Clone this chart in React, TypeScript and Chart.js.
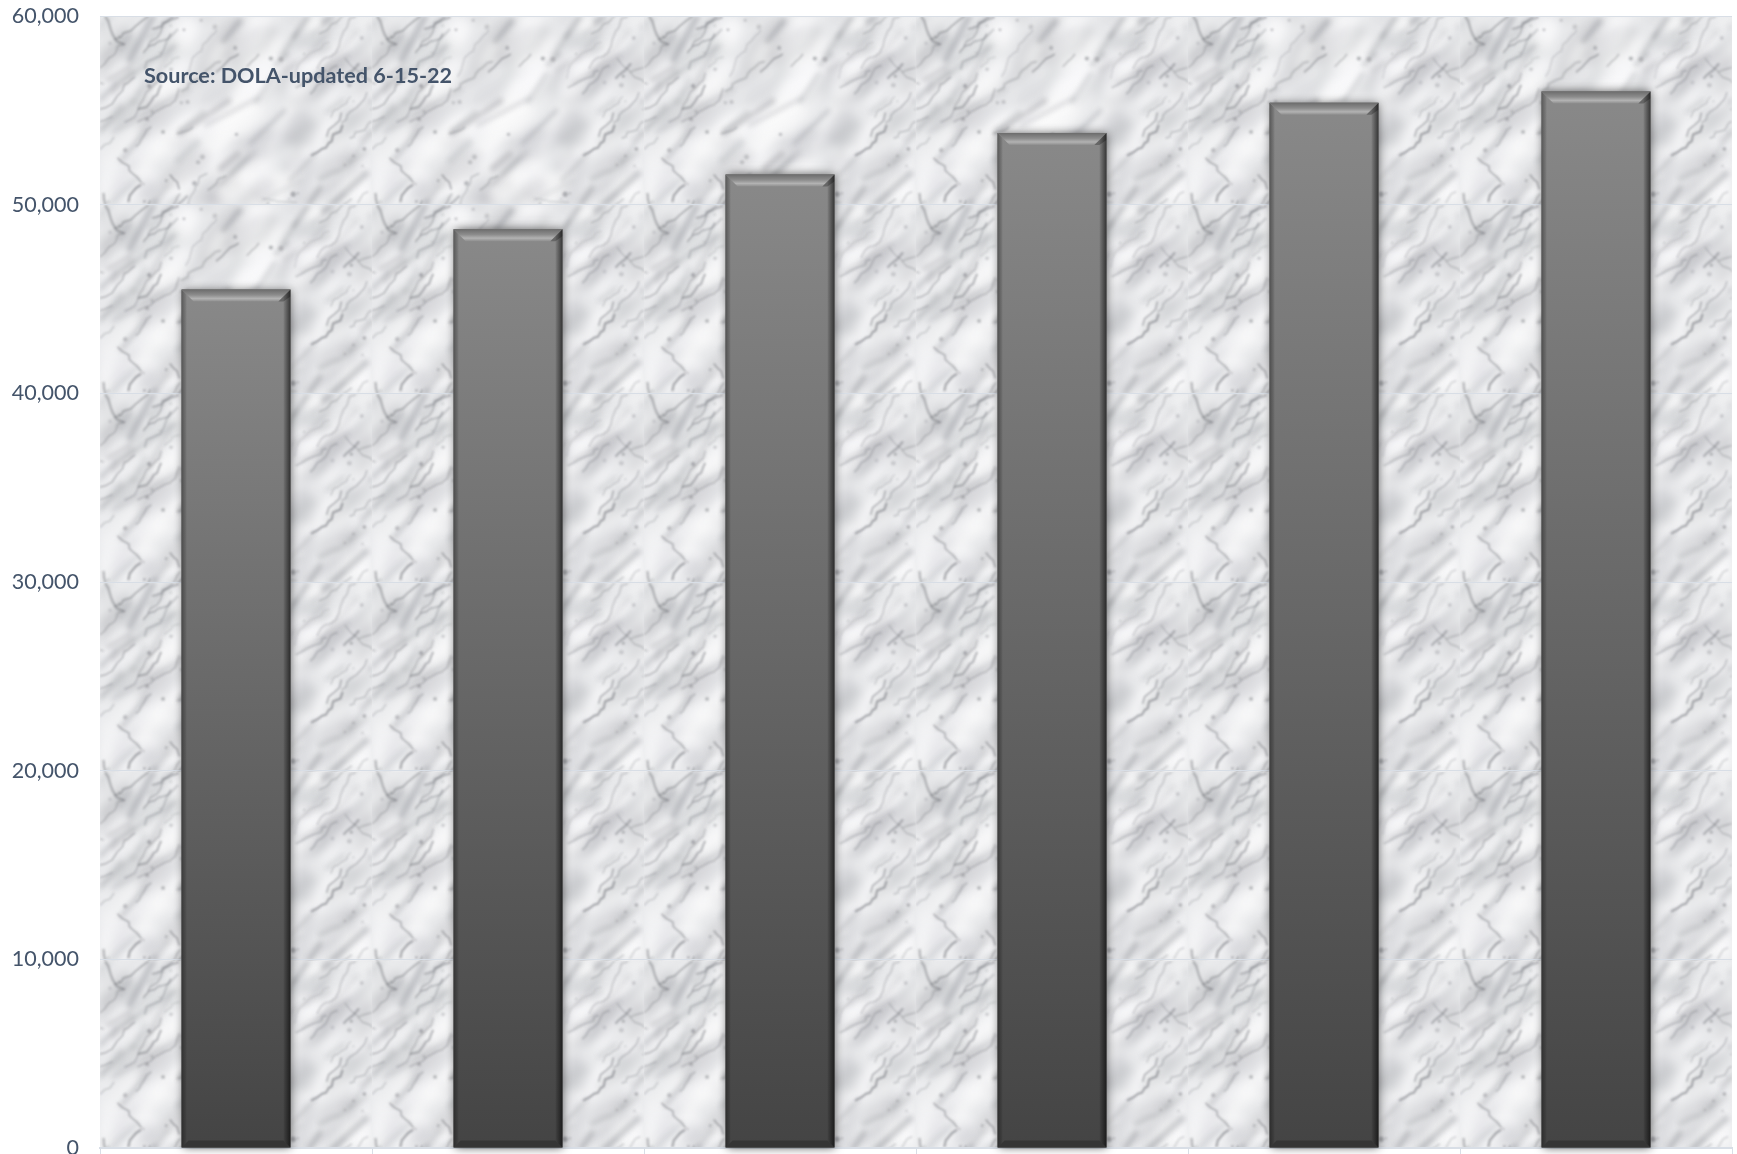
import { useEffect, useRef } from "react";
import { Chart, registerables } from "chart.js";

Chart.register(...registerables);

// Category labels are cut off in the reference image (not visible), kept hidden.
const categories = ["2020", "2025", "2030", "2035", "2040", "2045"];
const values = [45500, 48700, 51600, 53800, 55400, 56000];
const yMin = 0;
const yMax = 60000;
const yStep = 10000;
const sourceNote = "Source: DOLA-updated 6-15-22";

const TEXT_COLOR = "#44546A";
const GRID_COLOR = "#d8dee6";

function mulberry32(seed: number) {
  let a = seed;
  return function () {
    a |= 0;
    a = (a + 0x6d2b79f5) | 0;
    let t = Math.imul(a ^ (a >>> 15), 1 | a);
    t = (t + Math.imul(t ^ (t >>> 7), 61 | t)) ^ t;
    return ((t ^ (t >>> 14)) >>> 0) / 4294967296;
  };
}

function makeMarbleTile(w: number, h: number): HTMLCanvasElement {
  const c = document.createElement("canvas");
  c.width = w;
  c.height = h;
  const g = c.getContext("2d")!;
  const rnd = mulberry32(20220615);
  g.fillStyle = "#e8e9eb";
  g.fillRect(0, 0, w, h);
  const offs = [-1, 0, 1];
  const baseAng = -0.8;

  // soft, diagonal cloud layer
  const cl = document.createElement("canvas");
  cl.width = w;
  cl.height = h;
  const cg = cl.getContext("2d")!;
  for (let i = 0; i < 110; i++) {
    const x = rnd() * w;
    const y = rnd() * h;
    const rx = 10 + rnd() * 30;
    const ry = 4 + rnd() * 10;
    const light = rnd() < 0.55;
    const col = light
      ? `rgba(250,250,251,${(0.35 + rnd() * 0.4).toFixed(3)})`
      : `rgba(150,152,158,${(0.1 + rnd() * 0.18).toFixed(3)})`;
    const ang = baseAng + (rnd() - 0.5) * 0.6;
    for (const ox of offs)
      for (const oy of offs) {
        cg.fillStyle = col;
        cg.beginPath();
        cg.ellipse(x + ox * w, y + oy * h, rx, ry, ang, 0, Math.PI * 2);
        cg.fill();
      }
  }
  g.filter = "blur(5px)";
  g.drawImage(cl, 0, 0);
  g.filter = "none";

  // fuzzy diagonal streaks
  const st = document.createElement("canvas");
  st.width = w;
  st.height = h;
  const sg = st.getContext("2d")!;
  sg.lineCap = "round";
  for (let i = 0; i < 45; i++) {
    const x = rnd() * w;
    const y = rnd() * h;
    const ang = baseAng + (rnd() - 0.5) * 0.7;
    const len = 15 + rnd() * 45;
    const col = `rgba(135,137,143,${(0.15 + rnd() * 0.25).toFixed(3)})`;
    const lw = 2 + rnd() * 5;
    for (const ox of offs)
      for (const oy of offs) {
        sg.strokeStyle = col;
        sg.lineWidth = lw;
        sg.beginPath();
        sg.moveTo(x + ox * w, y + oy * h);
        sg.lineTo(x + ox * w + Math.cos(ang) * len, y + oy * h + Math.sin(ang) * len);
        sg.stroke();
      }
  }
  g.filter = "blur(2.5px)";
  g.drawImage(st, 0, 0);
  g.filter = "none";

  // fine cracks
  const v = document.createElement("canvas");
  v.width = w;
  v.height = h;
  const vg = v.getContext("2d")!;
  vg.lineCap = "round";
  vg.lineJoin = "round";
  for (let i = 0; i < 38; i++) {
    const pts: [number, number][] = [];
    let x = rnd() * w;
    let y = rnd() * h;
    const dir = rnd() < 0.75 ? baseAng : baseAng + 1.4 * (rnd() < 0.5 ? 1 : -1);
    let a = dir;
    const steps = 3 + Math.floor(rnd() * 8);
    pts.push([x, y]);
    for (let s = 0; s < steps; s++) {
      a = dir + (rnd() - 0.5) * 1.2;
      const step = 3 + rnd() * 6;
      x += Math.cos(a) * step;
      y += Math.sin(a) * step;
      pts.push([x, y]);
    }
    const col = `rgba(105,107,113,${(0.2 + rnd() * 0.35).toFixed(3)})`;
    const lw = 0.8 + rnd() * 1.6;
    for (const ox of offs)
      for (const oy of offs) {
        vg.strokeStyle = col;
        vg.lineWidth = lw;
        vg.beginPath();
        vg.moveTo(pts[0][0] + ox * w, pts[0][1] + oy * h);
        for (let k = 1; k < pts.length; k++) vg.lineTo(pts[k][0] + ox * w, pts[k][1] + oy * h);
        vg.stroke();
      }
  }
  for (let i = 0; i < 40; i++) {
    const x = rnd() * w;
    const y = rnd() * h;
    const r = 0.8 + rnd() * 1.8;
    vg.fillStyle = `rgba(110,112,118,${(0.2 + rnd() * 0.3).toFixed(3)})`;
    vg.beginPath();
    vg.arc(x, y, r, 0, Math.PI * 2);
    vg.fill();
  }
  g.filter = "blur(1.2px)";
  g.drawImage(v, 0, 0);
  g.filter = "none";
  return c;
}

const marblePlugin = {
  id: "marble",
  beforeDraw(chart: any) {
    const { ctx, chartArea } = chart;
    if (!chartArea) return;
    const ys = chart.scales.y;
    const tw = Math.round((chartArea.right - chartArea.left) / categories.length);
    const th = Math.round(Math.abs(ys.getPixelForValue(0) - ys.getPixelForValue(yStep)));
    const tile = makeMarbleTile(tw, th);
    const pat = ctx.createPattern(tile, "repeat");
    if (pat && (pat as any).setTransform) {
      (pat as any).setTransform(new DOMMatrix().translate(chartArea.left, chartArea.top));
    }
    ctx.save();
    ctx.fillStyle = pat;
    ctx.fillRect(chartArea.left, chartArea.top, chartArea.right - chartArea.left, chartArea.bottom - chartArea.top);
    ctx.restore();
  },
};

function barRects(chart: any) {
  const meta = chart.getDatasetMeta(0);
  return meta.data.map((el: any) => {
    const p = el.getProps(["x", "y", "width", "base"], true);
    return { L: p.x - p.width / 2, R: p.x + p.width / 2, T: p.y, B: p.base };
  });
}

const bevelPlugin = {
  id: "bevel",
  beforeDatasetsDraw(chart: any) {
    const ctx = chart.ctx;
    ctx.save();
    for (const r of barRects(chart)) {
      ctx.shadowColor = "rgba(0,0,0,0.6)";
      ctx.shadowBlur = 9;
      ctx.shadowOffsetX = 1;
      ctx.shadowOffsetY = 0;
      ctx.fillStyle = "#4a4a4a";
      ctx.fillRect(r.L, r.T, r.R - r.L, r.B - r.T);
    }
    ctx.restore();
  },
  afterDatasetsDraw(chart: any) {
    const ctx = chart.ctx;
    ctx.save();
    for (const r of barRects(chart)) {
      const { L, R, T, B } = r;
      const sb = 5;
      const tb = 12;
      const bb = 7;
      let g = ctx.createLinearGradient(L, 0, L + sb, 0);
      g.addColorStop(0, "rgba(0,0,0,0.35)");
      g.addColorStop(1, "rgba(0,0,0,0.05)");
      ctx.fillStyle = g;
      ctx.beginPath();
      ctx.moveTo(L, T);
      ctx.lineTo(L + sb, T + sb);
      ctx.lineTo(L + sb, B - sb);
      ctx.lineTo(L, B);
      ctx.closePath();
      ctx.fill();
      g = ctx.createLinearGradient(R, 0, R - 7, 0);
      g.addColorStop(0, "rgba(0,0,0,0.6)");
      g.addColorStop(1, "rgba(0,0,0,0.05)");
      ctx.fillStyle = g;
      ctx.beginPath();
      ctx.moveTo(R, T);
      ctx.lineTo(R - 7, T + 7);
      ctx.lineTo(R - 7, B - 7);
      ctx.lineTo(R, B);
      ctx.closePath();
      ctx.fill();
      ctx.fillStyle = "rgba(0,0,0,0.22)";
      ctx.beginPath();
      ctx.moveTo(L, B);
      ctx.lineTo(R, B);
      ctx.lineTo(R - bb, B - bb);
      ctx.lineTo(L + bb, B - bb);
      ctx.closePath();
      ctx.fill();
      g = ctx.createLinearGradient(0, T, 0, T + tb);
      g.addColorStop(0, "#6c6c6c");
      g.addColorStop(0.45, "#8c8c8c");
      g.addColorStop(0.75, "#b2b2b2");
      g.addColorStop(1, "#8e8e8e");
      ctx.fillStyle = g;
      ctx.beginPath();
      ctx.moveTo(L, T);
      ctx.lineTo(R, T);
      ctx.lineTo(R - tb, T + tb);
      ctx.lineTo(L + tb, T + tb);
      ctx.closePath();
      ctx.fill();
      ctx.fillStyle = "rgba(0,0,0,0.25)";
      ctx.beginPath();
      ctx.moveTo(R, T);
      ctx.lineTo(R - tb, T + tb);
      ctx.lineTo(R - 7, T + tb);
      ctx.lineTo(R, T + 7);
      ctx.closePath();
      ctx.fill();
    }
    ctx.restore();
  },
};

const sourcePlugin = {
  id: "sourceNote",
  afterDraw(chart: any) {
    const ctx = chart.ctx;
    ctx.save();
    ctx.font = "bold 21.6px Lato";
    ctx.fillStyle = TEXT_COLOR;
    ctx.textAlign = "left";
    ctx.textBaseline = "alphabetic";
    ctx.fillText(sourceNote, 144, 83);
    ctx.restore();
  },
};

export default function App() {
  const ref = useRef<HTMLCanvasElement | null>(null);
  useEffect(() => {
    if (!ref.current) return;
    const chart = new Chart(ref.current, {
      type: "bar",
      data: {
        labels: categories,
        datasets: [
          {
            data: values,
            backgroundColor: (c: any) => {
              const ch = c.chart;
              const area = ch.chartArea;
              if (!area || c.type !== "data") return "#666666";
              const top = ch.scales.y.getPixelForValue(c.raw as number);
              const g = ch.ctx.createLinearGradient(0, top, 0, area.bottom);
              g.addColorStop(0, "#898989");
              g.addColorStop(1, "#444444");
              return g;
            },
            borderWidth: 0,
            barPercentage: 0.4,
            categoryPercentage: 1,
          },
        ],
      },
      options: {
        animation: false,
        responsive: false,
        devicePixelRatio: 1,
        layout: { padding: { top: 16, right: 5, left: 0, bottom: 0 } },
        plugins: {
          legend: { display: false },
          tooltip: { enabled: false },
          title: { display: false },
        },
        scales: {
          x: {
            offset: true,
            grid: {
              display: true,
              drawOnChartArea: false,
              drawTicks: true,
              tickLength: 6,
              color: GRID_COLOR,
              offset: true,
            },
            border: { display: true, color: GRID_COLOR, width: 2 },
            ticks: { display: false },
            afterFit: (s: any) => {
              s.height = 6;
            },
          },
          y: {
            min: yMin,
            max: yMax,
            ticks: {
              stepSize: yStep,
              padding: 21,
              color: TEXT_COLOR,
              font: { family: "Lato", size: 21.5 },
            },
            grid: { color: GRID_COLOR, drawTicks: false, lineWidth: 1 },
            border: { display: false },
            afterFit: (s: any) => {
              s.width = 100;
              s.paddingTop = 0;
              s.paddingBottom = 0;
            },
          },
        },
      },
      plugins: [marblePlugin, bevelPlugin, sourcePlugin],
    });
    return () => chart.destroy();
  }, []);
  return (
    <div style={{ position: "absolute", left: 0, top: 0, width: 1737, height: 1154, background: "#ffffff" }}>
      <canvas ref={ref} width={1737} height={1154} style={{ display: "block" }} />
    </div>
  );
}
